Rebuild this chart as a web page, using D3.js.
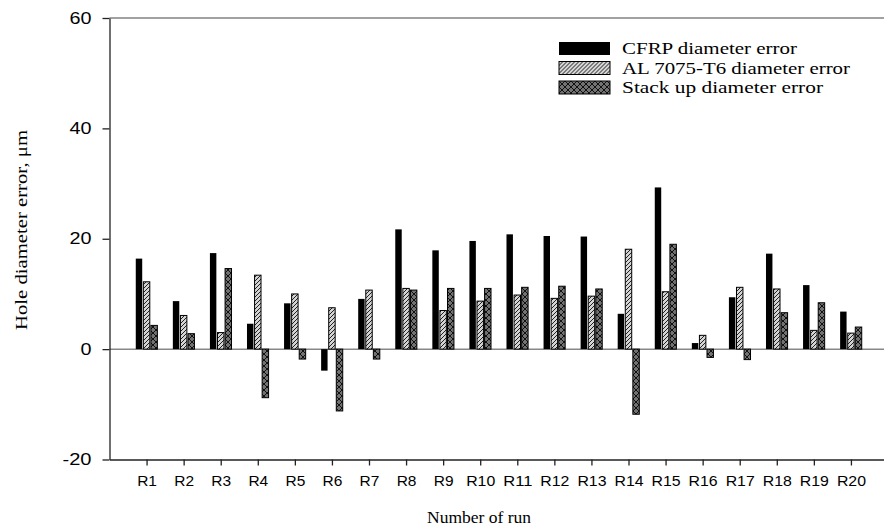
<!DOCTYPE html>
<head>
  <meta charset="utf-8">
  <style>
    body { margin: 0; background: #fff; }
    .tick-y { font-family: "Liberation Sans", Arial, sans-serif; font-size: 16px; }
    .tick-x { font-family: "Liberation Sans", Arial, sans-serif; font-size: 15px; }
    .serif { font-family: "Liberation Serif", "Times New Roman", serif; }
  </style>
  <title>Hole diameter error by run</title>
</head>

<body>
  <script src="https://cdn.jsdelivr.net/npm/d3@7"></script>
  <script>
    // data
    const runs = ["R1", "R2", "R3", "R4", "R5", "R6", "R7", "R8", "R9", "R10",
                  "R11", "R12", "R13", "R14", "R15", "R16", "R17", "R18", "R19", "R20"];
    const cfrp = [16.4, 8.7, 17.4, 4.6, 8.3, -3.9, 9.1, 21.7, 17.9, 19.6,
                  20.8, 20.5, 20.4, 6.4, 29.3, 1.1, 9.4, 17.3, 11.6, 6.8];
    const al7075 = [12.2, 6.1, 3.0, 13.4, 10.0, 7.5, 10.7, 11.0, 7.0, 8.7,
                    9.8, 9.2, 9.6, 18.1, 10.4, 2.5, 11.2, 10.9, 3.4, 2.9];
    const stackup = [4.3, 2.8, 14.6, -8.8, -1.8, -11.2, -1.8, 10.7, 11.0, 11.0,
                     11.2, 11.4, 10.9, -11.8, 19.0, -1.5, -1.9, 6.6, 8.4, 4.0];
    const seriesNames = ["CFRP diameter error", "AL 7075-T6 diameter error", "Stack up diameter error"];
    const yTicks = [-20, 0, 20, 40, 60];

    const W = 884, H = 532;

    const svg = d3.select("body").append("svg")
      .attr("width", W)
      .attr("height", H);

    // hatch patterns
    const defs = svg.append("defs");
    const diag = defs.append("pattern")
      .attr("id", "diag")
      .attr("patternUnits", "userSpaceOnUse")
      .attr("width", 4).attr("height", 4);
    diag.append("rect").attr("width", 4).attr("height", 4).attr("fill", "#d4d4d4");
    diag.append("path").attr("d", "M-1,1 l2,-2 M0,4 l4,-4 M3,5 l2,-2")
      .attr("stroke", "#222").attr("stroke-width", 1);

    const cross = defs.append("pattern")
      .attr("id", "cross")
      .attr("patternUnits", "userSpaceOnUse")
      .attr("width", 6).attr("height", 6);
    cross.append("rect").attr("width", 6).attr("height", 6).attr("fill", "#727272");
    cross.append("path").attr("d", "M0,0 L6,6 M6,0 L0,6")
      .attr("stroke", "#111").attr("stroke-width", 1);

    const fills = ["#000", "url(#diag)", "url(#cross)"];

    // scales
    const x = d3.scaleLinear().domain([0, 21]).range([109.5, 888]);
    const y = d3.scaleLinear().domain([-20, 60]).range([459.5, 18]);
    const sub = d3.scaleBand().domain([0, 1, 2]).range([-10.8, 10.8]).paddingInner(0.15);

    // long table for drawing
    const values = [cfrp, al7075, stackup];
    const table = [];
    runs.forEach((r, i) => {
      values.forEach((arr, s) => table.push({ run: i + 1, s: s, v: arr[i] }));
    });

    // top frame line
    svg.append("line")
      .attr("x1", x(0)).attr("x2", W)
      .attr("y1", y(60)).attr("y2", y(60))
      .attr("stroke", "#444").attr("stroke-width", 1.2);

    // zero line
    svg.append("line")
      .attr("x1", x(0)).attr("x2", W)
      .attr("y1", y(0)).attr("y2", y(0))
      .attr("stroke", "#888").attr("stroke-width", 1.5);

    // bars
    svg.selectAll(".bar")
      .data(table)
      .enter()
      .append("rect")
      .attr("class", "bar")
      .attr("x", d => x(d.run) + sub(d.s))
      .attr("y", d => y(Math.max(0, d.v)))
      .attr("width", sub.bandwidth())
      .attr("height", d => Math.abs(y(d.v) - y(0)))
      .attr("fill", d => fills[d.s])
      .attr("stroke", "#000")
      .attr("stroke-width", d => d.s === 0 ? 0 : 1);

    // x axis
    const xAxis = svg.append("g")
      .attr("transform", `translate(0,${y(-20)})`)
      .call(d3.axisBottom(x).tickValues(d3.range(1, 21)).tickSize(6).tickPadding(10)
        .tickFormat(d => runs[d - 1]).tickSizeOuter(0));
    xAxis.select(".domain").attr("stroke", "#222").attr("stroke-width", 1.3);
    xAxis.selectAll(".tick line").attr("stroke", "#222").attr("stroke-width", 1.3);
    xAxis.selectAll("text").attr("class", "tick-x").attr("fill", "#000")
      .attr("font-family", null).attr("font-size", null)
      .attr("textLength", d => 10.5 + 9.3 * (String(d).length))
      .attr("lengthAdjust", "spacingAndGlyphs");

    // y axis
    const yAxis = svg.append("g")
      .attr("transform", `translate(${x(0)},0)`)
      .call(d3.axisLeft(y).tickValues(yTicks).tickSize(7).tickPadding(11).tickSizeOuter(0)
        .tickFormat(d => String(d)));
    yAxis.select(".domain").attr("stroke", "#222").attr("stroke-width", 1.3);
    yAxis.selectAll(".tick line").attr("stroke", "#222").attr("stroke-width", 1.3);
    yAxis.selectAll("text").attr("class", "tick-y").attr("fill", "#000")
      .attr("font-family", null).attr("font-size", null)
      .attr("textLength", d => String(Math.abs(d)).length * 11 + (d < 0 ? 7 : 0))
      .attr("lengthAdjust", "spacingAndGlyphs");

    // axis titles
    svg.append("text")
      .attr("class", "serif")
      .attr("x", 479).attr("y", 523)
      .attr("text-anchor", "middle")
      .attr("font-size", 17)
      .attr("textLength", 104)
      .attr("lengthAdjust", "spacingAndGlyphs")
      .text("Number of run");

    svg.append("text")
      .attr("class", "serif")
      .attr("transform", "translate(27,230) rotate(-90)")
      .attr("text-anchor", "middle")
      .attr("font-size", 17)
      .attr("textLength", 200)
      .attr("lengthAdjust", "spacingAndGlyphs")
      .text("Hole diameter error, μm");

    // legend
    const legendWidths = [175, 228, 201];
    const legend = svg.append("g").attr("transform", "translate(559,42)");
    seriesNames.forEach((name, i) => {
      const row = legend.append("g").attr("transform", `translate(0,${i * 19.5})`);
      row.append("rect")
        .attr("width", 51).attr("height", 13)
        .attr("fill", fills[i])
        .attr("stroke", "#000").attr("stroke-width", i === 0 ? 0 : 1);
      row.append("text")
        .attr("class", "serif")
        .attr("x", 63).attr("y", 12)
        .attr("font-size", 17)
        .attr("textLength", legendWidths[i])
        .attr("lengthAdjust", "spacingAndGlyphs")
        .text(name);
    });
  </script>
</body>
